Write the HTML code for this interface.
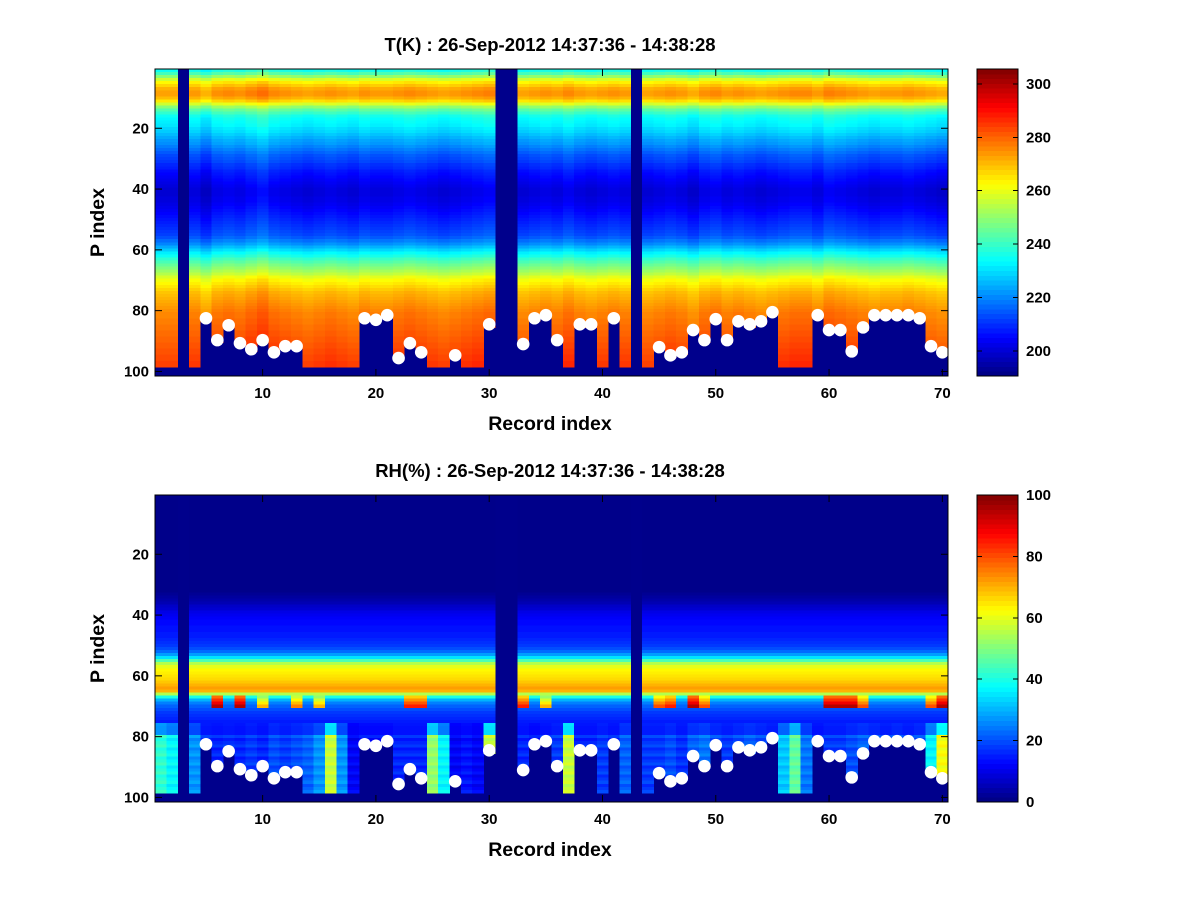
<!DOCTYPE html>
<html><head><meta charset="utf-8"><style>
html,body{margin:0;padding:0;background:#fff;}
svg text{font-family:"Liberation Sans",sans-serif;font-weight:bold;fill:#000;}
</style></head><body>
<svg id="fig" width="1200" height="900" xmlns="http://www.w3.org/2000/svg">
<rect x="0" y="0" width="1200" height="900" fill="#fff"/>
</svg>
<script>
// Records 1..70, levels 1..98
const records = Array.from({length:70},(_, i)=>i+1);
const tProfile = [236,242,250,258,264,268,272,274,274,271,
 266,258,250,244,240,236,234,233,232,230,
 229,227,225,223,222,220,218,216,214,213,
 212,210,209,207,206,205,204,203,202,201,
 201,201,202,202,203,204,205,206,207,208,
 209,210,211,212,213,215,218,221,225,229,
 233,236,240,243,246,249,252,255,259,262,
 264,266,268,270,271,272,273,274,275,276,
 277,277,278,278,279,279,280,280,281,281,
 282,282,283,283,284,284,285,285];
const tOffset = [-1,-1,0,0,-3,1,2,1,3,5, 2,1,0,-1,0,1,0,-1,1,0, 0,1,2,1,0,-1,0,1,2,3, 0,0,-1,0,1,0,2,0,-1,0, 1,0,0,-1,0,1,0,-2,1,2, 0,1,0,-1,0,1,2,2,0,3, 2,1,0,-1,0,0,1,0,-1,-2];
const surface = [98,98,0,98,82.5,89.7,84.8,90.7,92.7,89.7, 93.7,91.7,91.7,98,98,98,98,98,82.5,83,
 81.5,95.6,90.7,93.7,98,98,94.7,98,98,84.5, 0,0,91,82.5,81.5,89.7,98,84.5,84.5,98,
 82.5,98,0,98,92,94.7,93.7,86.4,89.7,82.8, 89.7,83.5,84.5,83.5,80.5,98,98,98,81.5,86.4,
 86.4,93.4,85.5,81.5,81.5,81.5,81.5,82.5,91.7,93.7];
const rhProfile = [1,1,1,1,1,1,1,1,1,1, 1,1,1,1,1,1,1,1,1,1, 1,1,1,1,1,1,1,1,1,1,
 1,1,2,3,4,5,7,8,10,11, 12,13,13,14,14,15,15,16,17,18,
 20,23,28,35,45,55,60,63,64,65, 66,68,70,72,70,55,40,30,25,22,
 20,18,17,16,15,15,14,14,14,14, 14,14,14,14,14,14,14,14,14,14, 14,14,14,14,14,14,14,14];
const rhLow = [40,35,0,25,15,14,15,14,16,14, 18,16,18,20,25,55,25,10,12,12, 12,14,14,14,50,35,10,12,10,55,
 0,0,14,12,14,16,55,14,14,16, 14,20,0,16,16,18,15,20,22,18, 16,18,20,18,16,30,45,22,14,16,
 16,18,20,18,16,18,16,18,35,60];
const rhSpike = [0,0,0,0,0,95,0,95,0,70, 0,0,75,0,70,0,0,0,0,0, 0,0,85,85,0,0,0,0,0,0,
 0,0,85,0,70,0,0,0,0,0, 0,0,0,0,80,85,0,95,80,0, 0,0,0,0,0,0,0,0,0,95,
 95,95,80,0,0,0,0,0,80,95];
const tTicks=[200,220,240,260,280,300];
const rhTicks=[0,20,40,60,80,100];
const xTicks=[10,20,30,40,50,60,70];
const yTicks=[20,40,60,80,100];

const NS="http://www.w3.org/2000/svg";
const svg=document.getElementById('fig');
function mk(tag,attrs,parent){const e=document.createElementNS(NS,tag);for(const k in attrs)e.setAttribute(k,attrs[k]);(parent||svg).appendChild(e);return e;}
function jet(v){v=Math.max(0,Math.min(1,v));
 const r=Math.max(0,Math.min(1,Math.min(4*v-1.5,-4*v+4.5)));
 const g=Math.max(0,Math.min(1,Math.min(4*v-0.5,-4*v+3.5)));
 const b=Math.max(0,Math.min(1,Math.min(4*v+0.5,-4*v+2.5)));
 return `rgb(${Math.round(r*255)},${Math.round(g*255)},${Math.round(b*255)})`;}
const X0=155,X1=948;
function xScale(r){return X0+(r-0.5)*(X1-X0)/70;}

function panel(top,name,title,vmin,vmax,valueFn,cTicks,cbName){
 const Y0=top,Y1=top+307;
 const yScale=l=>Y0+(l-0.5)*(Y1-Y0)/101;
 const g=mk('g',{});
 
 
 const bg=mk('rect',{x:X0,y:Y0,width:X1-X0,height:Y1-Y0,fill:'rgb(0,0,140)'},g);
 
 
 const cells=mk('g',{'shape-rendering':'crispEdges'},g);
 
 
 records.forEach((r,i)=>{
  const bot=Math.round(surface[i]);
  const xa=xScale(r-0.5),xb=xScale(r+0.5);
  for(let l=1;l<=bot;l++){
   const v=valueFn(i,l);
   mk('rect',{x:xa.toFixed(2),y:yScale(l-0.5).toFixed(2),width:(xb-xa+0.4).toFixed(2),height:(yScale(l+0.5)-yScale(l-0.5)+0.4).toFixed(2),fill:jet((v-vmin)/(vmax-vmin))},cells);
  }
 });
 records.forEach((r,i)=>{
  const s=surface[i];
  if(s>0&&s<98){
   const d=mk('circle',{cx:xScale(r),cy:yScale(s),r:6.3,fill:'#fff'},g);
   
   
  }
 });
 const fr=mk('rect',{x:X0,y:Y0,width:X1-X0,height:Y1-Y0,fill:'none',stroke:'#000','stroke-width':1},g);
 
 
 xTicks.forEach(t=>{const x=xScale(t);
  mk('line',{x1:x,y1:Y1,x2:x,y2:Y1-7,stroke:'#000'},g);
  mk('line',{x1:x,y1:Y0,x2:x,y2:Y0+7,stroke:'#000'},g);
  const tx=mk('text',{x:x,y:Y1+22,'text-anchor':'middle','font-size':15},g);tx.textContent=t;
  
  });
 yTicks.forEach(t=>{const y=yScale(t);
  mk('line',{x1:X0,y1:y,x2:X0+7,y2:y,stroke:'#000'},g);
  mk('line',{x1:X1,y1:y,x2:X1-7,y2:y,stroke:'#000'},g);
  const tx=mk('text',{x:X0-6,y:y+5,'text-anchor':'end','font-size':15},g);tx.textContent=t;
  
  });
 const ti=mk('text',{x:550,y:Y0-18,'text-anchor':'middle','font-size':18.5},g);ti.textContent=title;
 
 
 const xl=mk('text',{x:550,y:Y1+54,'text-anchor':'middle','font-size':19.5},g);xl.textContent='Record index';
 
 
 const yl=mk('text',{x:0,y:0,'text-anchor':'middle','font-size':19.5,transform:`translate(104,${(Y0+Y1)/2}) rotate(-90)`},g);yl.textContent='P index';
 
 
 const cb=mk('g',{'shape-rendering':'crispEdges'});
 
 
 const CX=977,CW=41,n=64;
 for(let k=0;k<n;k++){
  mk('rect',{x:CX,y:(Y1-(k+1)*(Y1-Y0)/n).toFixed(2),width:CW,height:((Y1-Y0)/n+0.5).toFixed(2),fill:jet((k+0.5)/n)},cb);
 }
 mk('rect',{x:CX,y:Y0,width:CW,height:Y1-Y0,fill:'none',stroke:'#000'},cb);
 cTicks.forEach(t=>{const y=Y1-(t-vmin)/(vmax-vmin)*(Y1-Y0);
  mk('line',{x1:CX,y1:y,x2:CX+5,y2:y,stroke:'#000'},cb);
  mk('line',{x1:CX+CW,y1:y,x2:CX+CW-5,y2:y,stroke:'#000'},cb);
  const tx=mk('text',{x:CX+CW+8,y:y+5,'font-size':15,'shape-rendering':'auto'},cb);tx.textContent=t;
  
  });
}
panel(69,'temperature-panel','T(K) : 26-Sep-2012 14:37:36 - 14:38:28',190.6,305.6,
 (i,l)=>tProfile[l-1]+tOffset[i],tTicks,'temperature-colorbar');
panel(495,'humidity-panel','RH(%) : 26-Sep-2012 14:37:36 - 14:38:28',0,100,
 (i,l)=>{let v=rhProfile[l-1];
  if(rhSpike[i]>0&&l>=67&&l<=70)v=rhSpike[i]-(70-l)*6;
  if(l>=80)v=rhLow[i]+(l%3)*2;
  else if(l>=76)v=(v+rhLow[i])/2;
  return v;},rhTicks,'humidity-colorbar');
</script>
</body></html>
